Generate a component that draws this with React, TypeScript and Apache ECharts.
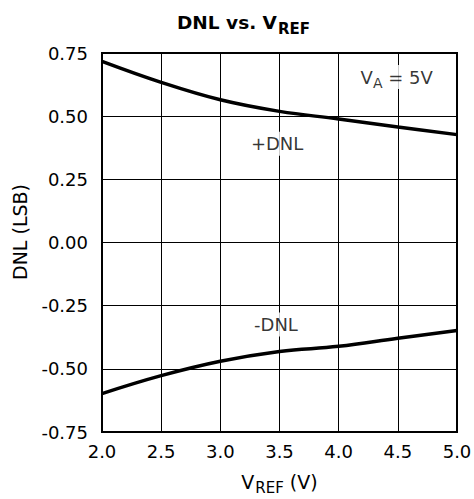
import React, { useEffect, useRef } from 'react';
import * as echarts from 'echarts';

const vref = [2.0, 2.5, 3.0, 3.5, 4.0, 4.5, 5.0];
const dnlPlus = [0.717, 0.634, 0.565, 0.519, 0.489, 0.457, 0.427];
const dnlMinus = [-0.598, -0.527, -0.47, -0.431, -0.411, -0.379, -0.348];
const xMin = 2.0;
const xMax = 5.0;
const xStep = 0.5;
const yMin = -0.75;
const yMax = 0.75;
const yStep = 0.25;
const annotations: [number, number, string][] = [
  [3.48, 0.391, '{t|+DNL}'],
  [3.47, -0.325, '{t|-DNL}'],
  [4.49, 0.655, '{t|V}{s|A}{t| = 5V}'],
];

const FONT = 'DejaVu Sans';

export default function App() {
  const ref = useRef<HTMLDivElement>(null);
  useEffect(() => {
    if (!ref.current) return;
    const chart = echarts.init(ref.current, null, { renderer: 'svg' });
    chart.setOption({
      animation: false,
      backgroundColor: '#fff',
      textStyle: { fontFamily: FONT, color: '#000' },
      title: {
        text: '{a|DNL vs. V}{b|REF}',
        left: 172,
        top: 8,
        textStyle: {
          rich: {
            a: { fontFamily: FONT, fontSize: 18.5, fontWeight: 'bold', color: '#000', lineHeight: 18, verticalAlign: 'top' },
            b: { fontFamily: FONT, fontSize: 15, fontWeight: 'bold', color: '#000', lineHeight: 14, verticalAlign: 'top', padding: [8, 0, 0, 1] },
          },
        },
      },
      grid: {
        left: 102,
        right: 17,
        top: 53,
        bottom: 67,
        show: true,
        borderColor: '#000',
        borderWidth: 2,
        outerBoundsMode: 'none',
      },
      xAxis: {
        type: 'value',
        min: xMin,
        max: xMax,
        interval: xStep,
        name: '{a|V}{b|REF}{a| (V)}',
        nameLocation: 'middle',
        nameGap: 40,
        nameTextStyle: {
          rich: {
            a: { fontFamily: FONT, fontSize: 19, color: '#000', lineHeight: 18, verticalAlign: 'top' },
            b: { fontFamily: FONT, fontSize: 15, color: '#000', lineHeight: 15, verticalAlign: 'top', padding: [8, 0, 0, 1] },
          },
        },
        axisLine: { show: false },
        axisTick: { show: false },
        axisLabel: { fontSize: 18, color: '#000', margin: 10, formatter: (v: number) => v.toFixed(1) },
        splitLine: { show: true, lineStyle: { color: '#000', width: 1 } },
      },
      yAxis: {
        type: 'value',
        min: yMin,
        max: yMax,
        interval: yStep,
        axisLine: { show: false },
        axisTick: { show: false },
        axisLabel: { fontSize: 18, color: '#000', margin: 14, formatter: (v: number) => v.toFixed(2) },
        splitLine: { show: true, lineStyle: { color: '#000', width: 1 } },
      },
      graphic: [
        {
          type: 'text',
          x: 20,
          y: 232,
          rotation: Math.PI / 2,
          style: {
            text: 'DNL (LSB)',
            fontFamily: FONT,
            fontSize: 19,
            fill: '#000',
            align: 'center',
            verticalAlign: 'middle',
          },
        },
      ],
      series: [
        {
          type: 'line',
          data: vref.map((x, i) => [x, dnlPlus[i]]),
          smooth: 0.4,
          symbol: 'none',
          lineStyle: { color: '#000', width: 3.5 },
          z: 3,
        },
        {
          type: 'line',
          data: vref.map((x, i) => [x, dnlMinus[i]]),
          smooth: 0.4,
          symbol: 'none',
          lineStyle: { color: '#000', width: 3.5 },
          z: 3,
        },
        {
          type: 'scatter',
          data: annotations.map((a) => [a[0], a[1], a[2]]),
          symbolSize: 1,
          itemStyle: { color: 'rgba(0,0,0,0)' },
          z: 4,
          label: {
            show: true,
            position: 'inside',
            formatter: (p: any) => p.data[2],
            backgroundColor: '#fff',
            padding: [3, 2, 3, 2],
            rich: {
              t: { fontFamily: FONT, fontSize: 18, color: '#000', lineHeight: 18, verticalAlign: 'top' },
              s: { fontFamily: FONT, fontSize: 14, color: '#000', lineHeight: 14, verticalAlign: 'top', padding: [8, 0, 0, 0] },
            },
          },
        },
      ],
    });
    return () => chart.dispose();
  }, []);
  return <div ref={ref} style={{ position: 'fixed', left: 0, top: 0, width: 474, height: 499 }} />;
}
